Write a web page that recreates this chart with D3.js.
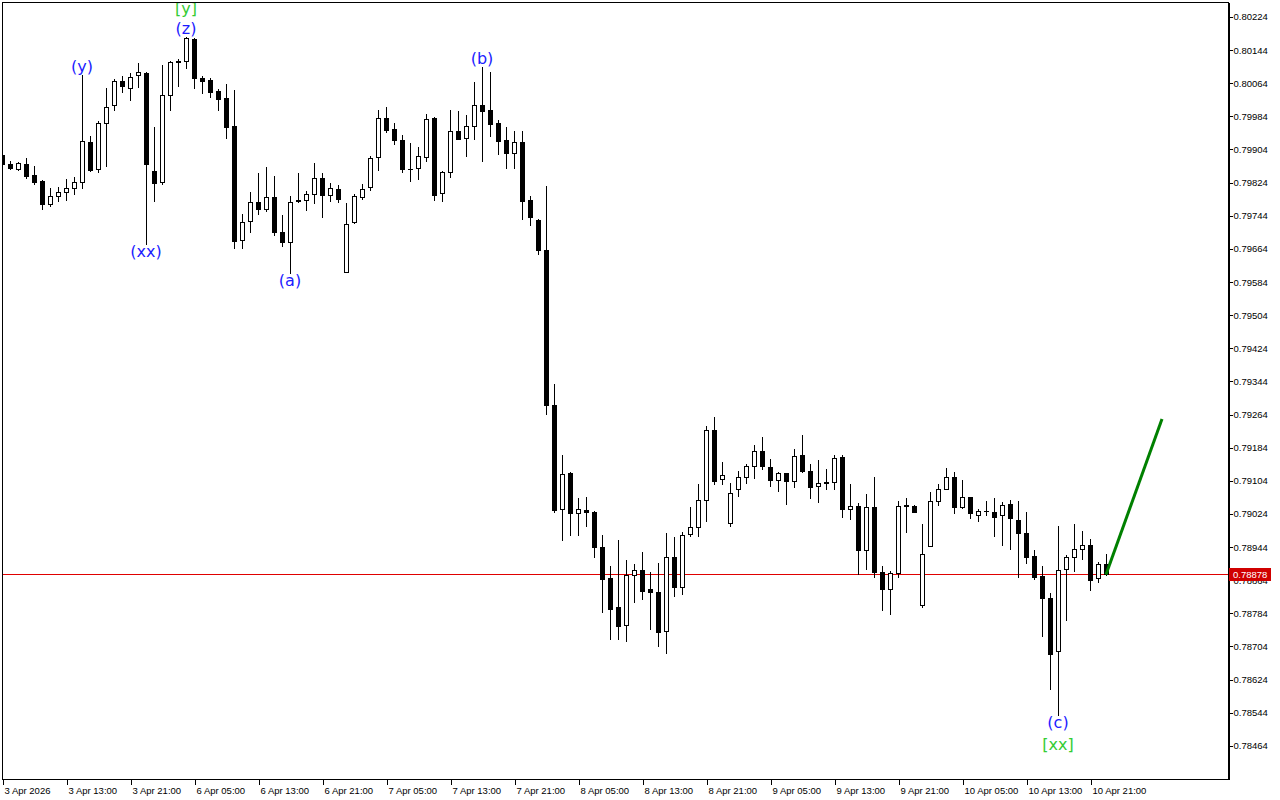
<!DOCTYPE html>
<html><head><meta charset="utf-8">
<script src="https://cdn.jsdelivr.net/npm/d3@7"></script>
<style>html,body{margin:0;padding:0;background:#fff;overflow:hidden}</style>
</head><body><svg id="c" width="1280" height="800"></svg>
<script>
const open=[0.79891,0.79870,0.79858,0.79870,0.79843,0.79829,0.79772,0.79792,0.79802,0.79812,
0.79826,0.79923,0.79857,0.79968,0.80012,0.80069,0.80053,0.80084,0.80089,0.79853,
0.79826,0.80036,0.80118,0.80117,0.80171,0.80077,0.80072,0.80045,0.80028,0.79961,
0.79685,0.79731,0.79777,0.79760,0.79790,0.79705,0.79681,0.79779,0.79782,0.79797,
0.79836,0.79795,0.79809,0.79608,0.79729,0.79790,0.79814,0.79886,0.79981,0.79954,
0.79927,0.79858,0.79860,0.79886,0.79981,0.79800,0.79850,0.79949,0.79932,0.79961,
0.80012,0.80000,0.79968,0.79927,0.79896,0.79923,0.79782,0.79734,0.79661,0.79287,
0.79036,0.79123,0.79027,0.79034,0.79029,0.78945,0.78870,0.78800,0.78757,0.78877,
0.78889,0.78843,0.78836,0.78742,0.78920,0.78848,0.78976,0.78993,0.79058,0.79227,
0.79108,0.79003,0.79084,0.79113,0.79140,0.79176,0.79137,0.79106,0.79123,0.79104,
0.79166,0.79128,0.79091,0.79101,0.79101,0.79161,0.79036,0.79044,0.78937,0.79041,
0.78884,0.78843,0.78882,0.79043,0.79044,0.78805,0.78947,0.79056,0.79084,0.79113,
0.79041,0.79065,0.79022,0.79030,0.79029,0.79022,0.79048,0.79010,0.78978,0.78923,
0.78875,0.78821,0.78694,0.78891,0.78920,0.78940,0.78949,0.78870,0.78904];
const high=[0.79894,0.79877,0.79874,0.79884,0.79864,0.79831,0.79812,0.79814,0.79833,0.79838,
0.80084,0.79937,0.79973,0.80053,0.80074,0.80081,0.80089,0.80113,0.80091,0.79959,
0.80108,0.80117,0.80123,0.80176,0.80173,0.80081,0.80077,0.80050,0.80062,0.80048,
0.79748,0.79802,0.79848,0.79862,0.79841,0.79746,0.79792,0.79848,0.79804,0.79872,
0.79848,0.79824,0.79819,0.79775,0.79797,0.79821,0.79889,0.80000,0.80007,0.79968,
0.79940,0.79920,0.79911,0.79990,0.79982,0.79853,0.80000,0.79997,0.79988,0.80067,
0.80103,0.80091,0.79976,0.79959,0.79949,0.79949,0.79792,0.79735,0.79816,0.79338,
0.79166,0.79125,0.79062,0.79065,0.79030,0.78974,0.78899,0.78961,0.78913,0.78904,
0.78933,0.78884,0.78906,0.78978,0.78969,0.78981,0.79041,0.79096,0.79236,0.79258,
0.79149,0.79099,0.79128,0.79145,0.79190,0.79210,0.79157,0.79125,0.79124,0.79181,
0.79215,0.79145,0.79154,0.79132,0.79166,0.79166,0.79096,0.79051,0.79072,0.79113,
0.78899,0.78887,0.79056,0.79062,0.79045,0.79000,0.79077,0.79096,0.79135,0.79125,
0.79106,0.79066,0.79036,0.79056,0.79062,0.79053,0.79058,0.79056,0.79029,0.78937,
0.78899,0.78833,0.78995,0.78925,0.79000,0.78983,0.78964,0.78908,0.78928];
const low=[0.79867,0.79857,0.79855,0.79836,0.79821,0.79760,0.79767,0.79780,0.79782,0.79797,
0.79812,0.79853,0.79850,0.79865,0.80000,0.80043,0.80024,0.80055,0.79676,0.79780,
0.79821,0.80000,0.80057,0.80101,0.80053,0.80040,0.80031,0.80000,0.79932,0.79666,
0.79666,0.79705,0.79748,0.79755,0.79698,0.79671,0.79606,0.79777,0.79758,0.79775,
0.79741,0.79780,0.79777,0.79607,0.79727,0.79785,0.79807,0.79855,0.79947,0.79918,
0.79850,0.79828,0.79833,0.79877,0.79782,0.79780,0.79838,0.79929,0.79889,0.79930,
0.79877,0.79937,0.79894,0.79860,0.79860,0.79736,0.79722,0.79652,0.79265,0.79029,
0.78961,0.78974,0.78974,0.78995,0.78920,0.78786,0.78723,0.78723,0.78716,0.78812,
0.78819,0.78747,0.78706,0.78689,0.78826,0.78831,0.78971,0.78971,0.79007,0.79096,
0.79096,0.78995,0.79067,0.79099,0.79111,0.79132,0.79091,0.79079,0.79048,0.79089,
0.79125,0.79062,0.79053,0.79084,0.79084,0.79017,0.79012,0.78879,0.78891,0.78872,
0.78793,0.78783,0.78872,0.78981,0.79028,0.78800,0.78946,0.79046,0.79083,0.79027,
0.79039,0.79015,0.79007,0.79022,0.78971,0.78949,0.78940,0.78872,0.78906,0.78867,
0.78730,0.78602,0.78539,0.78769,0.78887,0.78916,0.78841,0.78860,0.78877];
const close=[0.79870,0.79860,0.79872,0.79841,0.79826,0.79772,0.79792,0.79802,0.79812,0.79826,
0.79925,0.79855,0.79968,0.80007,0.80069,0.80057,0.80079,0.80091,0.79870,0.79824,
0.80036,0.80115,0.80114,0.80173,0.80077,0.80069,0.80043,0.80026,0.79959,0.79683,
0.79729,0.79777,0.79760,0.79790,0.79705,0.79681,0.79777,0.79782,0.79797,0.79836,
0.79795,0.79812,0.79785,0.79724,0.79792,0.79809,0.79884,0.79981,0.79952,0.79927,
0.79857,0.79857,0.79889,0.79978,0.79795,0.79850,0.79949,0.79930,0.79961,0.80012,
0.79997,0.79966,0.79925,0.79896,0.79923,0.79780,0.79741,0.79661,0.79287,0.79034,
0.79120,0.79027,0.79036,0.79029,0.78945,0.78867,0.78795,0.78754,0.78877,0.78889,
0.78838,0.78836,0.78740,0.78920,0.78848,0.78974,0.78993,0.79058,0.79227,0.79104,
0.79118,0.79075,0.79113,0.79140,0.79176,0.79140,0.79106,0.79123,0.79104,0.79164,
0.79128,0.79089,0.79099,0.79099,0.79159,0.79036,0.79044,0.78937,0.79041,0.78884,
0.78843,0.78882,0.79044,0.79045,0.79029,0.78928,0.79056,0.79084,0.79113,0.79041,
0.79065,0.79027,0.79031,0.79031,0.79017,0.79046,0.79015,0.78978,0.78920,0.78872,
0.78821,0.78687,0.78889,0.78920,0.78940,0.78949,0.78865,0.78904,0.78878];

const xTickBars=[0,8,16,24,32,40,48,56,64,72,80,88,96,104,112,120,128,136];
const xTickLabels=["3 Apr 2026","3 Apr 13:00","3 Apr 21:00","6 Apr 05:00","6 Apr 13:00","6 Apr 21:00",
"7 Apr 05:00","7 Apr 13:00","7 Apr 21:00","8 Apr 05:00","8 Apr 13:00","8 Apr 21:00",
"9 Apr 05:00","9 Apr 13:00","9 Apr 21:00","10 Apr 05:00","10 Apr 13:00","10 Apr 21:00"];
const yTickValues=[0.80224,0.80144,0.80064,0.79984,0.79904,0.79824,0.79744,0.79664,0.79584,0.79504,
0.79424,0.79344,0.79264,0.79184,0.79104,0.79024,0.78944,0.78864,0.78784,0.78704,0.78624,0.78544,0.78464];
const lastPrice=0.78878;
const waveText=["[y]","(z)","(y)","(b)","(xx)","(a)","(c)","[xx]"];
const waveBar=[23,23,10,60,18,36,132,132];
const waveSide=["high","high","high","high","low","low","low","low"];
const waveLevel=[1,0,0,0,0,0,0,1];
const waveKind=["major","minor","minor","minor","minor","minor","minor","major"];
const arrowBars=[138,145];
const arrowPrices=[0.78878,0.79253];

const svg=d3.select("#c");
const PL=2,PR=1228,PT=2,PB=779;
const x=d3.scaleLinear().domain([0,153.25]).range([PL,PR]);
const y=d3.scaleLinear().domain([0.78384,0.80260]).range([PB,PT]);

svg.append("rect").attr("width",1280).attr("height",800).attr("fill","#fff");
svg.append("defs").append("clipPath").attr("id","clip")
  .append("rect").attr("x",PL).attr("y",PT).attr("width",PR-PL).attr("height",PB-PT);

const g=svg.append("g").attr("clip-path","url(#clip)").attr("shape-rendering","crispEdges");
const idx=d3.range(open.length);

// price line
g.append("line").attr("x1",PL).attr("x2",PR)
  .attr("y1",Math.round(y(lastPrice))+0.5).attr("y2",Math.round(y(lastPrice))+0.5)
  .attr("stroke","#e00000").attr("stroke-width",1);

// wicks
g.selectAll("line.w").data(idx).join("line").attr("class","w")
  .attr("x1",i=>Math.round(x(i))+0.5).attr("x2",i=>Math.round(x(i))+0.5)
  .attr("y1",i=>Math.round(y(high[i]))).attr("y2",i=>Math.round(y(low[i]))+1)
  .attr("stroke","#000").attr("stroke-width",1);

// bodies
idx.forEach(i=>{
  const cx=Math.round(x(i));
  const top=Math.round(y(Math.max(open[i],close[i])));
  const bot=Math.round(y(Math.min(open[i],close[i])));
  const bull=close[i]>open[i];
  if(bot-top<1){
    g.append("line").attr("x1",cx-2).attr("x2",cx+3).attr("y1",top+0.5).attr("y2",top+0.5)
      .attr("stroke","#000").attr("stroke-width",1);
  } else {
    g.append("rect").attr("x",cx-1.5).attr("y",top+0.5).attr("width",4).attr("height",bot-top)
      .attr("fill",bull?"#fff":"#000").attr("stroke","#000").attr("stroke-width",1);
  }
});

// arrow line
const line=d3.line().x(d=>x(d[0])).y(d=>y(d[1]));
g.append("path").attr("d",line(arrowBars.map((b,i)=>[b,arrowPrices[i]])))
  .attr("fill","none").attr("stroke","#008000").attr("stroke-width",3).attr("shape-rendering","auto");

// wave labels
const lg=svg.append("g");
waveText.forEach((t,i)=>{
  const b=waveBar[i];
  let yy;
  if(waveSide[i]==="high") yy=y(high[b])-3-waveLevel[i]*20;
  else yy=y(low[b])+13+waveLevel[i]*22;
  lg.append("text").attr("x",x(b)).attr("y",yy).attr("text-anchor","middle")
    .attr("font-family","DejaVu Sans, Verdana, sans-serif").attr("font-size",16)
    .attr("fill",waveKind[i]==="major"?"#34cc34":"#1c1cff").text(t);
});

// frame
svg.append("rect").attr("x",PL+0.5).attr("y",PT+0.5).attr("width",PR-PL).attr("height",PB-PT)
  .attr("fill","none").attr("stroke","#000").attr("stroke-width",1).attr("shape-rendering","crispEdges");

// right axis
const ya=d3.axisRight(y).tickValues(yTickValues).tickFormat(d3.format(".5f")).tickSize(4).tickSizeOuter(0).tickPadding(1);
const yg=svg.append("g").attr("transform",`translate(${PR+0.5},0)`).attr("shape-rendering","crispEdges").call(ya);
yg.select(".domain").attr("stroke","#000").attr("stroke-width",2);
yg.selectAll("text").attr("font-family","Liberation Sans, Arial, sans-serif").attr("font-size",9.5).attr("fill","#000");
yg.selectAll("line").attr("stroke","#000");

// bottom axis
const xa=d3.axisBottom(x).tickValues(xTickBars).tickFormat((d,i)=>xTickLabels[i]).tickSize(5).tickSizeOuter(0).tickPadding(3);
const xg=svg.append("g").attr("transform",`translate(0,${PB+0.5})`).attr("shape-rendering","crispEdges").call(xa);
xg.select(".domain").remove();
xg.selectAll(".tick line").attr("transform","translate(0.5,0)").attr("stroke","#000");
xg.selectAll("text").attr("text-anchor","start").attr("x",2)
  .attr("font-family","Liberation Sans, Arial, sans-serif").attr("font-size",9.5).attr("fill","#000");

// price tag
const py=Math.round(y(lastPrice));
svg.append("rect").attr("x",PR+1).attr("y",py-6).attr("width",42).attr("height",13).attr("fill","#d00000");
svg.append("text").attr("x",PR+5).attr("y",py+4).attr("font-family","Liberation Sans, Arial, sans-serif")
  .attr("font-size",9.5).attr("fill","#fff").text(d3.format(".5f")(lastPrice));
</script></body></html>
